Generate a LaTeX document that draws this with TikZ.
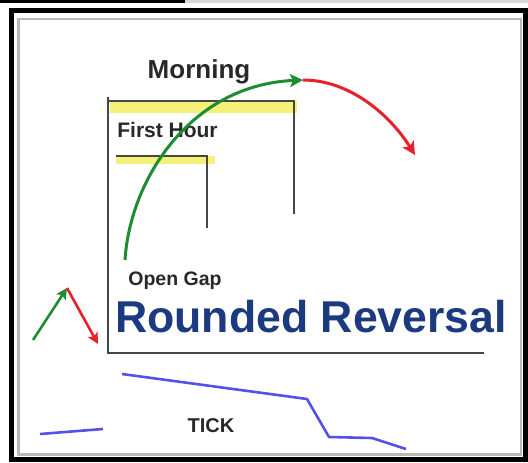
\documentclass[tikz,border=0pt]{standalone}
\usepackage{fontspec}
\setmainfont{Liberation Sans}
\usetikzlibrary{arrows.meta}
\definecolor{axisgray}{RGB}{70,70,70}
\definecolor{hl}{RGB}{245,240,120}
\definecolor{upgreen}{RGB}{30,140,50}
\definecolor{downred}{RGB}{232,32,42}
\definecolor{tickblue}{RGB}{85,80,230}
\definecolor{navy}{RGB}{28,58,128}
\definecolor{txt}{RGB}{40,40,40}
\tikzset{
  axis/.style={draw=axisgray, line width=2.4pt},
  hlband/.style={fill=hl, draw=none},
  label/.style={inner sep=0pt, anchor=base, text=txt, font=\bfseries},
  uparrow/.style={draw=upgreen, line width=3pt, -{Stealth[length=13pt,width=13pt,inset=3pt]}},
  downarrow/.style={draw=downred, line width=3pt, -{Stealth[length=13pt,width=13pt,inset=3pt]}},
  tickline/.style={draw=tickblue, line width=2.6pt, line join=round},
}
\begin{document}
\begin{tikzpicture}[x=1pt,y=-1pt]
\useasboundingbox (0,0) rectangle (528,463);
\fill[white] (0,0) rectangle (528,463);
% top strip
\fill[black] (0,0) rectangle (185,2.7);
\fill[gray!30] (185,0) rectangle (528,3);
% frame
\draw[black, line width=5pt] (11,10.5) rectangle (525.5,459);
\draw[gray!55, line width=2.5pt] (18.5,19) rectangle (521,454.5);
% highlight bands
\fill[hlband] (110,101) rectangle (297,113);
\fill[hlband] (116,156) rectangle (215,164);
% axes / boxes
\coordinate (axtop) at (108,97);
\coordinate (axorg) at (108,353);
\coordinate (axend) at (484,353);
\draw[axis] (axtop) -- (axorg) -- (axend);
\coordinate (m1) at (108,101);
\coordinate (m2) at (294,101);
\coordinate (m3) at (294,214);
\draw[axis] (m1) -- (m2) -- (m3);
\coordinate (f1) at (116,156);
\coordinate (f2) at (207,156);
\coordinate (f3) at (207,228);
\draw[axis] (f1) -- (f2) -- (f3);
% texts
\node[label, font=\bfseries\fontsize{26}{26}\selectfont] (morning) at (199,78) {Morning};
\node[label, font=\bfseries\fontsize{21}{21}\selectfont] (firsthour) at (167.5,137) {First Hour};
\node[label, font=\bfseries\fontsize{19.5}{19.5}\selectfont] (opengap) at (175,285) {Open Gap};
\node[label, text=navy, font=\bfseries\fontsize{44.6}{44.6}\selectfont] (title) at (311,332) {Rounded Reversal};
\node[label, font=\bfseries\fontsize{20}{20}\selectfont] (tick) at (211,432) {TICK};
% big curves
\coordinate (gstart) at (125,260);
\coordinate (peak) at (303,80);
\coordinate (rend) at (415,155);
\draw[uparrow] (gstart) .. controls (130,180) and (190,85) .. (peak);
\draw[downarrow] (peak) .. controls (350,80) and (390,115) .. (rend);
% small arrows
\coordinate (sa) at (33,340);
\coordinate (sb) at (67,288);
\coordinate (sc) at (98,344);
\draw[uparrow, line width=2.6pt, -{Stealth[length=11pt,width=11pt,inset=2.5pt]}] (sa) -- (sb);
\draw[downarrow, line width=2.6pt, -{Stealth[length=11pt,width=11pt,inset=2.5pt]}] (sb) -- (sc);
% tick lines
\coordinate (t1) at (40,434);
\coordinate (t2) at (103,429);
\draw[tickline] (t1) -- (t2);
\coordinate (u1) at (122,374);
\coordinate (u2) at (307,399);
\coordinate (u3) at (329,437);
\coordinate (u4) at (372,438);
\coordinate (u5) at (406,449);
\draw[tickline] (u1) -- (u2) -- (u3) -- (u4) -- (u5);
\end{tikzpicture}
\end{document}
